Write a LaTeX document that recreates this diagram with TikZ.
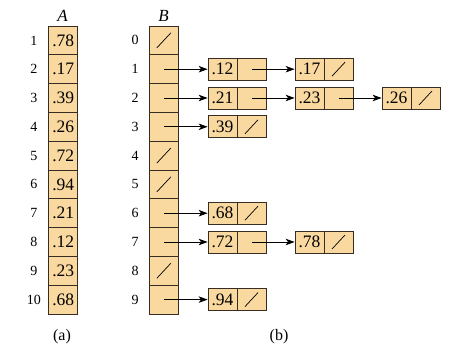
\documentclass[tikz,border=0pt]{standalone}
\usepackage{fontspec}
\setmainfont{Liberation Serif}
\usetikzlibrary{arrows.meta,calc}
\definecolor{cellfill}{RGB}{250,217,160}
\definecolor{edge}{RGB}{55,45,35}
\begin{document}
\begin{tikzpicture}[x=1pt,y=-1pt,
 cell/.style={draw=edge,fill=cellfill,line width=0.8pt,minimum width=29pt,minimum height=28.8pt,inner sep=0pt,font=\fontsize{17.5}{17.5}\selectfont},
 field/.style={draw=edge,fill=cellfill,line width=0.8pt,minimum width=29pt,minimum height=22pt,inner sep=0pt,font=\fontsize{17.5}{17.5}\selectfont},
 idx/.style={font=\fontsize{14}{14}\selectfont},
 head/.style={font=\fontsize{17}{17}\selectfont\itshape},
 captext/.style={font=\fontsize{16}{16}\selectfont},
 ptr/.style={-{Stealth[length=9pt,width=6.5pt,inset=2.5pt]},line width=0.7pt,draw=black},
 nil/.style={line width=0.7pt,draw=black}
]
\useasboundingbox (0,0) rectangle (458,358);
% array A
\node[head] (hA) at (62.5,16) {A};
\foreach \v [count=\i] in {.78,.17,.39,.26,.72,.94,.21,.12,.23,.68}{
  \node[cell] (a\i) at (63.2,{26+28.8*(\i-0.5)}) {\v};
  \node[idx] (ia\i) at (34,{26+28.8*(\i-0.5)}) {\i};
}
% array B
\node[head] (hB) at (163.5,16) {B};
\foreach \j in {0,...,9}{
  \node[cell] (b\j) at (163.8,{26+28.8*(\j+0.5)}) {};
  \node[idx] (ib\j) at (135,{26+28.8*(\j+0.5)}) {\j};
}
\foreach \j in {0,4,5,8}{
  \draw[nil] ($(b\j.center)+(-7,7.5)$) -- ($(b\j.center)+(7,-7.5)$);
}
% list nodes
\newcommand{\lnode}[4]{% name, x, row, key
  \node[field] (k#1) at (#2,{26+28.8*(#3+0.5)}) {#4};
  \node[field] (p#1) at ({#2+29},{26+28.8*(#3+0.5)}) {};
}
\newcommand{\lnil}[1]{\draw[nil] ($(p#1.center)+(-6.5,7)$) -- ($(p#1.center)+(6.5,-7)$);}
\lnode{11}{222.5}{1}{.12}
\lnode{12}{309.5}{1}{.17}
\lnode{21}{222.5}{2}{.21}
\lnode{22}{309.5}{2}{.23}
\lnode{23}{396.5}{2}{.26}
\lnode{31}{222.5}{3}{.39}
\lnode{61}{222.5}{6}{.68}
\lnode{71}{222.5}{7}{.72}
\lnode{72}{309.5}{7}{.78}
\lnode{91}{222.5}{9}{.94}
\lnil{12}\lnil{23}\lnil{31}\lnil{61}\lnil{72}\lnil{91}
% pointers
\draw[ptr] (b1.center) -- (k11.west);
\draw[ptr] (p11.center) -- (k12.west);
\draw[ptr] (b2.center) -- (k21.west);
\draw[ptr] (p21.center) -- (k22.west);
\draw[ptr] (p22.center) -- (k23.west);
\draw[ptr] (b3.center) -- (k31.west);
\draw[ptr] (b6.center) -- (k61.west);
\draw[ptr] (b7.center) -- (k71.west);
\draw[ptr] (p71.center) -- (k72.west);
\draw[ptr] (b9.center) -- (k91.west);
% captions
\node[captext] (ca) at (62,337) {(a)};
\node[captext] (cb) at (279,337) {(b)};
\end{tikzpicture}
\end{document}
